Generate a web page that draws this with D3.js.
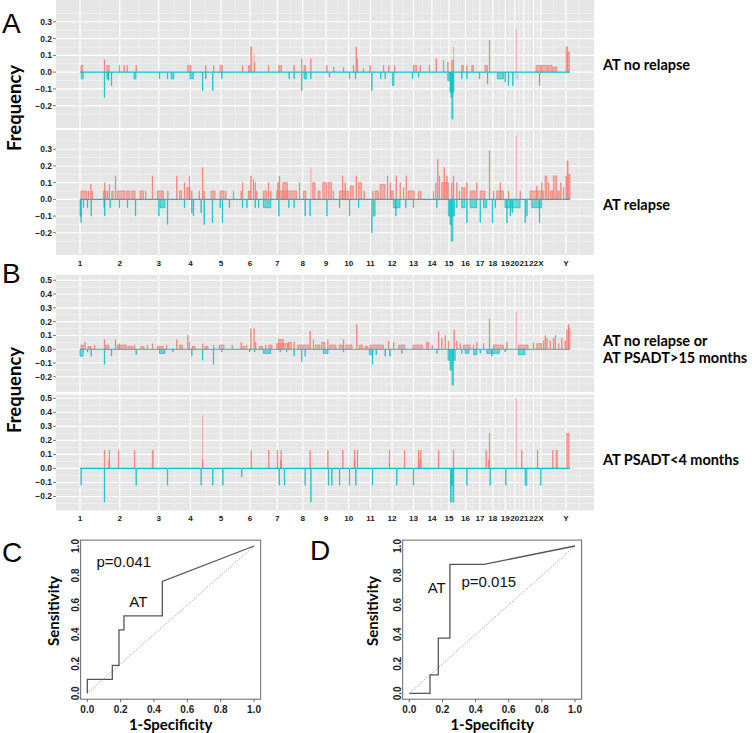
<!DOCTYPE html>
<html><head><meta charset="utf-8">
<script src="https://cdn.jsdelivr.net/npm/d3@7"></script>
<style>body{margin:0;background:#fff} svg{display:block}</style>
</head><body>
<svg id="c" width="752" height="733"></svg>
<script>
// ---------- DATA ----------
const chromLabels = ["1","2","3","4","5","6","7","8","9","10","11","12","13","14","15","16","17","18","19","20","21","22","X","Y"];
const chromStarts = [0,249,492,690,881,1062,1233,1392,1538,1679,1815,1950,2084,2199,2306,2409,2499,2580,2658,2717,2774,2834,2880,3036];
const genomeEnd = 3062;

const yTicksA = [-0.2,-0.1,0,0.1,0.2,0.3];
const yTicksB = [-0.2,-0.1,0,0.1,0.2,0.3,0.4,0.5];

// entries: [position, freq] (narrow) or [start, end, freq]
const gainA1 = [[6,17,0.04],[152,0.075],[168,182,0.04],[246,0.04],[275,0.04],[294,0.04],[350,0.04],[673,694,0.04],[785,0.04],[835,0.04],[875,890,0.04],[1015,0.04],[1052,1062,0.04],[1067,1073,0.15],[1090,0.06],[1177,0.04],[1242,1260,0.04],[1337,0.04],[1385,0.08],[1400,1410,0.04],[1442,0.08],[1542,0.04],[1585,0.03],[1646,0.03],[1708,0.04],[1725,0.15],[1733,0.08],[1771,0.02],[1812,0.04],[1896,0.04],[1929,0.04],[1965,0.04],[2083,2104,0.04],[2125,0.04],[2183,0.04],[2225,0.08],[2271,0.07],[2298,0.06],[2323,2333,0.07],[2385,2396,0.04],[2417,0.04],[2448,2458,0.04],[2531,2546,0.04],[2558,0.19],[2850,2880,0.04],[2885,2920,0.04],[2925,2950,0.04],[2955,2979,0.03],[3037,3047,0.15],[3047,3058,0.12]];
const gainA1Faint = [[1087,0.11],[2333,0.15],[2725,0.26]];
const lossA1 = [[8,20,-0.04],[152,-0.15],[168,180,-0.04],[176,-0.05],[196,-0.08],[337,350,-0.04],[496,-0.04],[546,-0.04],[569,587,-0.04],[687,708,-0.04],[765,-0.11],[785,-0.04],[829,-0.11],[885,-0.04],[1306,-0.04],[1337,-0.04],[1385,-0.11],[1400,1415,-0.04],[1442,-0.04],[1558,-0.03],[1683,-0.04],[1721,-0.04],[1823,-0.11],[1879,-0.04],[1906,-0.04],[1952,1962,-0.08],[2077,-0.04],[2115,-0.03],[2298,2308,-0.05],[2312,2318,-0.12],[2318,2324,-0.15],[2324,2330,-0.28],[2330,2336,-0.12],[2385,-0.04],[2417,-0.04],[2496,-0.04],[2546,-0.07],[2608,2646,-0.04],[2656,-0.06],[2677,-0.08],[2704,-0.08],[2871,-0.08]];
const lossA1Faint = [[2725,2735,-0.04]];

const gainA2 = [[6,42,0.05],[52,0.05],[67,0.09],[76,0.05],[146,163,0.05],[154,0.10],[172,0.05],[183,0.09],[198,208,0.05],[221,0.14],[233,281,0.05],[292,312,0.05],[323,344,0.05],[375,396,0.05],[410,0.05],[452,0.14],[483,521,0.05],[548,0.05],[604,0.14],[621,635,0.05],[652,0.10],[667,688,0.07],[683,0.14],[698,0.05],[744,0.05],[765,0.19],[775,0.05],[819,844,0.05],[875,900,0.05],[910,0.05],[958,0.05],[1006,0.05],[1015,0.10],[1052,1062,0.05],[1067,0.14],[1083,0.12],[1094,0.10],[1104,0.05],[1146,1167,0.05],[1177,0.10],[1192,0.05],[1229,1354,0.05],[1246,0.14],[1235,1242,0.10],[1267,1296,0.10],[1371,0.10],[1396,1412,0.05],[1454,1469,0.10],[1487,1500,0.05],[1517,1542,0.10],[1552,1573,0.10],[1583,0.05],[1621,1677,0.05],[1640,0.14],[1656,0.10],[1688,1708,0.08],[1725,0.14],[1740,1760,0.10],[1775,0.05],[1829,0.05],[1844,1865,0.05],[1875,1906,0.09],[1921,0.14],[1938,0.10],[1944,1958,0.05],[1975,0.14],[2000,0.10],[2021,0.07],[2038,0.14],[2052,2088,0.05],[2115,0.05],[2129,0.05],[2208,0.05],[2223,0.10],[2235,0.24],[2246,0.14],[2260,2302,0.10],[2275,0.19],[2292,0.14],[2323,0.10],[2333,0.14],[2354,0.10],[2370,0.05],[2385,2406,0.07],[2417,0.10],[2438,2469,0.05],[2479,0.10],[2500,2531,0.05],[2558,0.29],[2583,0.05],[2604,2646,0.05],[2625,0.10],[2677,0.05],[2750,0.05],[2812,2896,0.05],[2854,0.08],[2885,0.10],[2906,2917,0.14],[2927,0.10],[2940,2955,0.05],[2958,2979,0.14],[2985,2995,0.05],[3004,0.10],[3021,0.07],[3037,0.14],[3044,3050,0.23],[3050,3062,0.15]];
const gainA2Faint = [[1442,0.19],[2725,0.38]];
const lossA2 = [[0,6,-0.10],[6,-0.14],[21,-0.05],[46,-0.05],[69,-0.10],[150,-0.05],[154,-0.10],[187,-0.05],[246,-0.05],[296,-0.05],[346,-0.10],[492,-0.10],[500,531,-0.05],[546,-0.15],[652,-0.05],[698,-0.08],[708,-0.10],[756,-0.08],[775,-0.15],[827,-0.14],[875,-0.05],[889,-0.14],[933,-0.05],[1015,-0.05],[1042,-0.05],[1094,-0.05],[1115,-0.05],[1146,1192,-0.05],[1242,-0.10],[1304,-0.05],[1337,-0.05],[1406,-0.10],[1437,-0.10],[1542,-0.10],[1621,-0.05],[1683,-0.10],[1740,-0.05],[1823,-0.20],[1833,1844,-0.10],[1958,2000,-0.05],[1973,-0.10],[2035,-0.05],[2083,-0.05],[2229,-0.05],[2302,2312,-0.10],[2312,2320,-0.15],[2320,2330,-0.25],[2330,2340,-0.10],[2354,-0.05],[2385,2406,-0.05],[2417,-0.14],[2438,2479,-0.05],[2500,-0.14],[2521,2542,-0.05],[2577,-0.14],[2594,-0.05],[2656,2750,-0.05],[2667,-0.14],[2688,-0.10],[2700,-0.08],[2781,-0.14],[2792,-0.10],[2823,2885,-0.05],[2871,-0.14]];
const lossA2Faint = [];

const gainB1 = [[6,20,0.03],[30,0.05],[50,70,0.02],[90,0.03],[152,0.07],[160,180,0.03],[221,0.07],[233,290,0.03],[246,0.04],[300,330,0.02],[340,0.03],[380,400,0.02],[420,0.03],[452,0.04],[483,520,0.02],[540,0.03],[604,0.07],[621,640,0.03],[673,0.10],[683,0.05],[700,720,0.02],[765,0.04],[780,800,0.02],[835,0.03],[870,900,0.03],[950,0.03],[1006,0.05],[1015,1030,0.02],[1040,0.03],[1067,0.15],[1087,0.15],[1097,0.05],[1120,1140,0.02],[1160,0.03],[1180,1200,0.03],[1229,1300,0.04],[1240,1271,0.07],[1300,1320,0.05],[1337,0.05],[1360,1430,0.03],[1437,0.13],[1458,0.07],[1470,1500,0.03],[1510,1530,0.05],[1548,0.07],[1560,1600,0.03],[1620,1640,0.03],[1646,0.07],[1660,1700,0.03],[1729,0.18],[1745,1765,0.03],[1780,1800,0.02],[1812,1896,0.03],[1927,0.06],[1960,0.05],[1990,2030,0.03],[2080,2140,0.03],[2165,2180,0.05],[2200,0.03],[2240,0.13],[2260,0.08],[2281,0.10],[2302,0.06],[2337,0.14],[2354,0.06],[2375,0.04],[2396,2438,0.03],[2458,0.03],[2479,0.05],[2521,0.04],[2558,0.22],[2583,2646,0.03],[2667,0.05],[2740,2800,0.03],[2833,0.05],[2854,2885,0.04],[2896,0.06],[2906,0.10],[2917,0.08],[2937,0.06],[2958,0.08],[2969,0.10],[2990,0.04],[3010,0.08],[3031,0.06],[3042,0.14],[3052,0.18],[3052,3062,0.15]];
const gainB1Faint = [[2725,0.27]];
const lossB1 = [[0,20,-0.05],[46,-0.02],[69,-0.05],[152,-0.11],[196,-0.05],[350,-0.04],[496,531,-0.03],[580,-0.02],[698,-0.05],[765,-0.08],[833,-0.11],[885,-0.02],[1060,-0.02],[1090,-0.02],[1146,1192,-0.03],[1250,-0.02],[1290,-0.02],[1337,-0.05],[1385,-0.09],[1406,-0.05],[1520,1550,-0.03],[1646,-0.02],[1808,1830,-0.04],[1827,-0.11],[1850,-0.04],[1906,-0.05],[1936,-0.05],[2010,-0.03],[2230,-0.03],[2300,2312,-0.08],[2312,2325,-0.15],[2325,2333,-0.26],[2333,2345,-0.08],[2385,-0.03],[2406,2430,-0.03],[2460,2480,-0.04],[2500,-0.03],[2542,2620,-0.03],[2573,-0.05],[2656,-0.02],[2740,2780,-0.04]];
const lossB1Faint = [];

const gainB2 = [[152,0.13],[180,0.06],[183,0.13],[240,0.13],[340,0.13],[452,458,0.13],[765,0.06],[1069,0.13],[1179,0.13],[1233,0.13],[1253,1258,0.06],[1256,0.13],[1437,0.13],[1548,0.13],[1642,0.13],[1713,1718,0.06],[1715,0.13],[1733,0.13],[1933,0.13],[2027,0.13],[2115,2129,0.06],[2115,0.13],[2129,0.13],[2240,0.13],[2333,0.13],[2537,0.13],[2553,0.06],[2558,0.25],[2760,0.13],[2858,0.13],[2954,0.13],[2975,2983,0.13],[3042,3056,0.25]];
const gainB2Faint = [[765,0.38],[2725,0.50]];
const lossB2 = [[6,-0.12],[152,-0.24],[350,-0.12],[546,-0.12],[756,-0.12],[829,-0.12],[892,-0.12],[1010,-0.06],[1244,-0.12],[1277,-0.12],[1406,-0.12],[1442,-0.24],[1552,-0.12],[1573,-0.12],[1621,-0.12],[1683,-0.12],[1723,-0.12],[1827,-0.12],[1979,-0.12],[2083,-0.12],[2315,2320,-0.24],[2320,2330,-0.12],[2330,2336,-0.24],[2417,-0.12],[2562,-0.12],[2660,-0.12],[2781,2792,-0.12],[2879,-0.12]];
const lossB2Faint = [];

const rocC_fpr = [0,0,0.15,0.15,0.19,0.19,0.22,0.22,0.45,0.45,1];
const rocC_tpr = [0,0.095,0.095,0.19,0.19,0.43,0.43,0.525,0.525,0.76,1];
const rocD_fpr = [0,0.125,0.125,0.175,0.175,0.245,0.245,0.45,1];
const rocD_tpr = [0,0,0.125,0.125,0.375,0.375,0.875,0.875,1];
const rocTicks = [0,0.2,0.4,0.6,0.8,1.0];

// ---------- DRAW ----------
const svg = d3.select("#c");
const GAIN = "#F8766D", LOSS = "#00BFC4";
const x = d3.scaleLinear().domain([-150, 3212]).range([56, 594]);
const line = d3.line();
const seg = d => d.length === 2 ? [d[0], d[0] + 2, d[1]] : d;

const defs = svg.append("defs");
let clipId = 0;

function panel(top, bottom, domain, majors, gains, gainsFaint, losses, lossesFaint) {
  const y = d3.scaleLinear().domain(domain).range([bottom, top]);
  const g = svg.append("g");
  g.append("rect").attr("x", 56).attr("y", top).attr("width", 538).attr("height", bottom - top).attr("fill", "#E6E6E6");
  const step = majors[1] - majors[0];
  const minors = [];
  for (let v = majors[0] - step / 2; v <= domain[1]; v += step) if (v >= domain[0]) minors.push(v);
  g.selectAll(".hmin").data(minors).join("line")
    .attr("x1", 56).attr("x2", 594).attr("y1", d => y(d)).attr("y2", d => y(d))
    .attr("stroke", "#F4F4F4").attr("stroke-width", 0.6);
  const vmin = chromStarts.slice(1).map((s, i) => (s + chromStarts[i]) / 2).concat([3120]);
  g.selectAll(".vmin").data(vmin).join("line")
    .attr("x1", d => x(d)).attr("x2", d => x(d)).attr("y1", top).attr("y2", bottom)
    .attr("stroke", "#F4F4F4").attr("stroke-width", 0.6);
  g.selectAll(".hmaj").data(majors).join("line")
    .attr("x1", 56).attr("x2", 594).attr("y1", d => y(d)).attr("y2", d => y(d))
    .attr("stroke", "#fff").attr("stroke-width", 1.1);
  g.selectAll(".vmaj").data(chromStarts).join("line")
    .attr("x1", d => x(d)).attr("x2", d => x(d)).attr("y1", top).attr("y2", bottom)
    .attr("stroke", "#fff").attr("stroke-width", 1.1);
  // y axis
  g.selectAll(".yt").data(majors).join("line")
    .attr("x1", 53).attr("x2", 56).attr("y1", d => y(d)).attr("y2", d => y(d))
    .attr("stroke", "#555").attr("stroke-width", 0.8);
  g.selectAll(".yl").data(majors).join("text")
    .attr("x", 52).attr("y", d => y(d) + 3).attr("text-anchor", "end")
    .attr("font-family", "Liberation Sans, Arial, sans-serif").attr("font-weight", "bold")
    .attr("font-size", 8.5).attr("fill", "#222").text(d => d3.format(".1f")(d));
  // data
  const id = "clip" + (clipId++);
  defs.append("clipPath").attr("id", id).append("rect").attr("x", 56).attr("y", top).attr("width", 538).attr("height", bottom - top);
  const dg = g.append("g").attr("clip-path", `url(#${id})`);
  const path = d => { const [s, e, v] = seg(d); return line([[x(s), y(0)], [x(s), y(v)], [x(e), y(v)], [x(e), y(0)]]); };
  dg.selectAll(".gf").data(gainsFaint).join("path").attr("d", path).attr("fill", "none").attr("stroke", GAIN).attr("stroke-opacity", 0.35).attr("stroke-width", 0.9);
  dg.selectAll(".g").data(gains).join("path").attr("d", path).attr("fill", GAIN).attr("fill-opacity", 0.55).attr("stroke", GAIN).attr("stroke-opacity", 0.85).attr("stroke-width", 0.8);
  dg.selectAll(".lf").data(lossesFaint).join("path").attr("d", path).attr("fill", "none").attr("stroke", LOSS).attr("stroke-opacity", 0.35).attr("stroke-width", 0.9);
  dg.selectAll(".l").data(losses).join("path").attr("d", path).attr("fill", LOSS).attr("fill-opacity", 0.55).attr("stroke", LOSS).attr("stroke-opacity", 0.85).attr("stroke-width", 0.8);
  dg.append("path").attr("d", line([[x(0), y(0)], [x(genomeEnd), y(0)]])).attr("fill", "none").attr("stroke", LOSS).attr("stroke-width", 1.2);
}

function chromAxis(yBase) {
  svg.append("g").selectAll("text").data(chromLabels).join("text")
    .attr("x", (d, i) => x(chromStarts[i])).attr("y", yBase).attr("text-anchor", "middle")
    .attr("font-family", "Liberation Sans, Arial, sans-serif").attr("font-weight", "bold")
    .attr("font-size", 8.1).attr("fill", "#222").text(d => d);
}

panel(0, 128, [-0.333, 0.43], yTicksA, gainA1, gainA1Faint, lossA1, lossA1Faint);
panel(130, 255, [-0.333, 0.415], yTicksA, gainA2, gainA2Faint, lossA2, lossA2Faint);
chromAxis(266);
panel(275, 392, [-0.31, 0.538], yTicksB, gainB1, gainB1Faint, lossB1, lossB1Faint);
panel(394.5, 510.5, [-0.30, 0.527], yTicksB, gainB2, gainB2Faint, lossB2, lossB2Faint);
chromAxis(520.5);

const bigFont = "Liberation Sans, Arial, sans-serif";
const calFont = "Lato, Open Sans, sans-serif";
[["A", 2, 33], ["B", 2, 283], ["C", 2, 562], ["D", 310, 560]].forEach(([t, px, py]) =>
  svg.append("text").attr("x", px).attr("y", py).attr("font-family", bigFont).attr("font-size", 28).attr("fill", "#000").text(t));

[[108, "Frequency"], [390, "Frequency"]].forEach(([cy, t]) =>
  svg.append("text").attr("transform", `translate(21,${cy}) rotate(-90)`).attr("text-anchor", "middle")
    .attr("font-family", calFont).attr("font-weight", "bold").attr("font-size", 18.5).attr("fill", "#000").text(t));

[["AT no relapse", 70], ["AT relapse", 210], ["AT no relapse or", 346], ["AT PSADT>15 months", 363], ["AT PSADT<4 months", 465]].forEach(([t, py]) =>
  svg.append("text").attr("x", 603).attr("y", py).attr("font-family", calFont).attr("font-weight", "bold")
    .attr("font-size", 14.5).attr("fill", "#000").text(t));

function roc(cfg) {
  const sx = d3.scaleLinear().domain([0, 1]).range([cfg.x0, cfg.x1]);
  const sy = d3.scaleLinear().domain([0, 1]).range([693.3, 546]);
  const g = svg.append("g");
  const pad = 0.04;
  g.append("rect").attr("x", sx(-pad)).attr("y", sy(1 + pad)).attr("width", sx(1 + pad) - sx(-pad)).attr("height", sy(-pad) - sy(1 + pad))
    .attr("fill", "none").attr("stroke", "#666").attr("stroke-width", 1);
  g.append("path").attr("d", line([[sx(0), sy(0)], [sx(1), sy(1)]])).attr("stroke", "#777").attr("stroke-width", 0.8).attr("stroke-dasharray", "1,1.5").attr("fill", "none");
  g.append("path").attr("d", line(cfg.fpr.map((f, i) => [sx(f), sy(cfg.tpr[i])]))).attr("stroke", "#555").attr("stroke-width", 1.3).attr("fill", "none");
  g.selectAll(".xt").data(rocTicks).join("line").attr("x1", d => sx(d)).attr("x2", d => sx(d)).attr("y1", sy(-pad)).attr("y2", sy(-pad) + 3).attr("stroke", "#666");
  g.selectAll(".xl").data(rocTicks).join("text").attr("x", d => sx(d)).attr("y", 713).attr("text-anchor", "middle")
    .attr("font-family", bigFont).attr("font-weight", "bold").attr("font-size", 10).attr("fill", "#222").text(d => d3.format(".1f")(d));
  g.selectAll(".yl").data(rocTicks).join("text").attr("transform", d => `translate(${sx(-pad) - 2},${sy(d)}) rotate(-90)`).attr("text-anchor", "middle")
    .attr("font-family", bigFont).attr("font-weight", "bold").attr("font-size", 10).attr("fill", "#222").text(d => d3.format(".1f")(d));
  g.append("text").attr("x", (cfg.x0 + cfg.x1) / 2).attr("y", 729.5).attr("text-anchor", "middle")
    .attr("font-family", calFont).attr("font-weight", "bold").attr("font-size", 15).attr("fill", "#000").text("1-Specificity");
  g.append("text").attr("transform", `translate(${cfg.sensX},611) rotate(-90)`).attr("text-anchor", "middle")
    .attr("font-family", calFont).attr("font-weight", "bold").attr("font-size", 15).attr("fill", "#000").text("Sensitivity");
  g.append("text").attr("x", cfg.pX).attr("y", cfg.pY).attr("font-family", bigFont).attr("font-size", 15).attr("fill", "#111").text(cfg.p);
  g.append("text").attr("x", cfg.atX).attr("y", cfg.atY).attr("text-anchor", "middle").attr("font-family", bigFont).attr("font-size", 15).attr("fill", "#111").text("AT");
}
roc({x0: 87.3, x1: 254, fpr: rocC_fpr, tpr: rocC_tpr, sensX: 58.5, p: "p=0.041", pX: 96.5, pY: 567, atX: 138.3, atY: 607});
roc({x0: 409.3, x1: 575, fpr: rocD_fpr, tpr: rocD_tpr, sensX: 378, p: "p=0.015", pX: 461.5, pY: 587, atX: 436.7, atY: 593});
</script>
</body></html>
